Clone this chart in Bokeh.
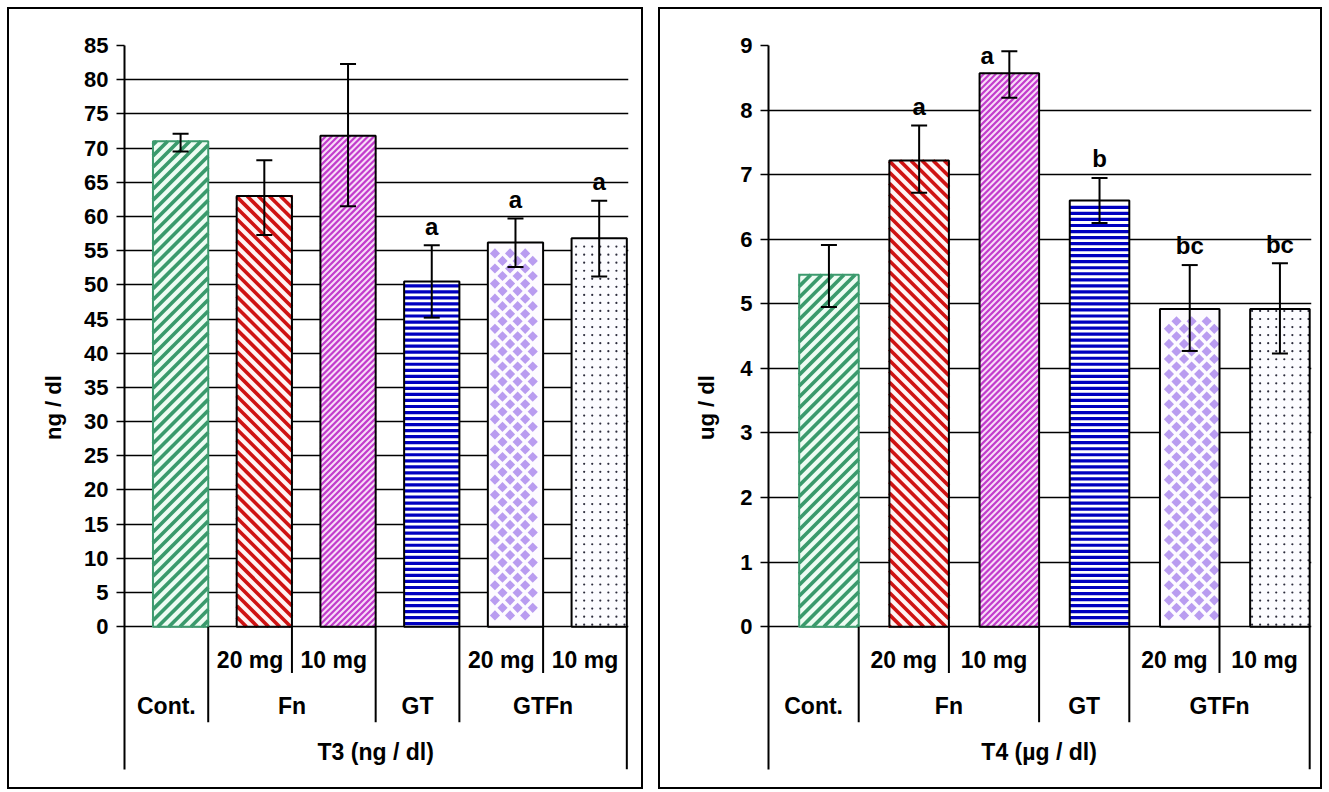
import math
from bokeh.plotting import figure
from bokeh.models import ColumnDataSource, Range1d, FixedTicker, Whisker, TeeHead
from bokeh.layouts import row
from bokeh.embed import file_html
from bokeh.resources import INLINE
from bokeh.core.properties import value

# ---------------- data ----------------
groups = ["Cont.", "Fn", "Fn", "GT", "GTFn", "GTFn"]
doses = ["", "20 mg", "10 mg", "", "20 mg", "10 mg"]

t3_mean = [71.0, 63.0, 71.8, 50.5, 56.2, 56.8]
t3_lower = [69.5, 57.3, 61.5, 45.2, 52.6, 51.2]
t3_upper = [72.1, 68.2, 82.3, 55.8, 59.7, 62.3]
t3_letters = ["", "", "", "a", "a", "a"]
t3_ticks = list(range(0, 90, 5))

t4_mean = [5.45, 7.22, 8.57, 6.60, 4.92, 4.92]
t4_lower = [4.95, 6.72, 8.19, 6.25, 4.27, 4.23]
t4_upper = [5.91, 7.76, 8.91, 6.95, 5.60, 5.63]
t4_letters = ["", "a", "a", "b", "bc", "bc"]
t4_ticks = list(range(0, 10))

# ---------------- styles ----------------
FONT = "Liberation Sans"
# per bar: (kind, colour, period px, line width / marker size px)
fills = [
    ("/", "#3a9a6c", 11, 3.6),
    ("\\", "#cf1313", 11, 3.6),
    ("/", "#c23ccc", 6, 2.2),
    ("-", "#0000c0", 6, 3.2),
    ("diamond", "#b99cf0", 15, 7.2),
    ("dot", "#2c2c3c", 8, 2.2),
]
fill_colors = ["#eefcf3", "#fff4f4", "#f8dcf8", "#ffffff", "#fdfbff", "#fcfcff"]
line_colors = ["#3d9a6e", "#000000", "#000000", "#000000", "#000000", "#000000"]
BAR_W = 0.66

FRAME_H_ABOVE = 578   # px from zero line to top
FRAME_H_BELOW = 142   # px of category table below zero


def panel(ymax, ticks, mean, lower, upper, letters, ylabel, title,
          width, min_left, frame_w, min_right, label_standoff):
    ppu = FRAME_H_ABOVE / ymax
    n = len(groups)
    xspan = n + 0.02
    ppx = frame_w / xspan

    def u(px):
        return px / ppu

    cat_c = [i + 0.5 for i in range(n)]          # category centres
    xs = [i + 1 - BAR_W / 2 for i in range(n)]   # bars sit at the right of each category
    p = figure(width=width, height=778, output_backend="svg", toolbar_location=None,
               x_range=Range1d(0, xspan), y_range=Range1d(-u(FRAME_H_BELOW), ymax),
               frame_width=frame_w, frame_height=FRAME_H_ABOVE + FRAME_H_BELOW,
               min_border_left=min_left, min_border_right=min_right,
               min_border_top=36, min_border_bottom=22)
    p.outline_line_color = None
    p.background_fill_color = "white"
    p.border_fill_color = "white"
    p.styles = {"border": "2px solid black"}

    p.xaxis.visible = False
    p.xgrid.visible = False
    tk = FixedTicker(ticks=ticks, minor_ticks=[])
    p.yaxis.ticker = tk
    p.ygrid.ticker = tk
    p.ygrid.grid_line_color = "black"
    p.ygrid.grid_line_width = 1.6
    p.yaxis.axis_line_width = 2
    p.yaxis.axis_line_color = "black"
    p.yaxis.major_tick_line_width = 1.6
    p.yaxis.major_tick_in = 0
    p.yaxis.major_tick_out = 8
    p.yaxis.minor_tick_line_color = None
    p.yaxis.major_label_standoff = 8
    p.yaxis.major_label_text_font = FONT
    p.yaxis.major_label_text_font_style = "bold"
    p.yaxis.major_label_text_font_size = "22px"
    p.yaxis.major_label_text_color = "black"
    p.yaxis.axis_label = ylabel
    p.yaxis.axis_label_text_font = FONT
    p.yaxis.axis_label_text_font_style = "bold"
    p.yaxis.axis_label_text_font_size = "22px"
    p.yaxis.axis_label_text_color = "black"
    p.yaxis.axis_label_standoff = label_standoff

    # bar fills
    p.vbar(x=xs, top=mean, bottom=0, width=BAR_W, fill_color=fill_colors, line_color=None)

    # pattern inside each bar, generated in screen pixels from the bar geometry
    for i in range(n):
        kind, col, per, lw = fills[i]
        L = (xs[i] - BAR_W / 2) * ppx
        R = (xs[i] + BAR_W / 2) * ppx
        H = mean[i] * ppu
        x0s, y0s, x1s, y1s = [], [], [], []
        if kind in ("/", "\\"):
            kmin = math.floor((L - H) / per) - 1
            kmax = math.ceil((R + H) / per) + 1
            for k in range(kmin, kmax + 1):
                c = k * per
                if kind == "/":      # y = x - c
                    a, b = max(L, c), min(R, c + H)
                    if a < b:
                        x0s.append(a); y0s.append(a - c); x1s.append(b); y1s.append(b - c)
                else:                # y = c - x
                    a, b = max(L, c - H), min(R, c)
                    if a < b:
                        x0s.append(a); y0s.append(c - a); x1s.append(b); y1s.append(c - b)
        elif kind == "-":
            y = per / 2
            while y < H - lw / 2:
                x0s.append(L); y0s.append(y); x1s.append(R); y1s.append(y)
                y += per
        if x0s:
            p.segment(x0=[v / ppx for v in x0s], y0=[v / ppu for v in y0s],
                      x1=[v / ppx for v in x1s], y1=[v / ppu for v in y1s],
                      line_color=col, line_width=lw)
        if kind in ("diamond", "dot"):
            px_, py_ = [], []
            r = lw * (0.7 if kind == "diamond" else 0.5)
            jmax = int(H / (per / 2)) + 2
            imin = int(L // (per / 2)) - 1
            imax = int(R // (per / 2)) + 2
            for jy in range(0, jmax):
                for ix in range(imin, imax):
                    if kind == "diamond" and (ix + jy) % 2:
                        continue
                    if kind == "dot" and (ix % 2 or jy % 2):
                        continue
                    cx = ix * per / 2
                    cy = jy * per / 2 + per / 4
                    if L + r <= cx <= R - r and r <= cy <= H - r:
                        px_.append(cx / ppx); py_.append(cy / ppu)
            if kind == "diamond":
                p.scatter(x=px_, y=py_, marker="square", size=lw, angle=math.pi / 4,
                          fill_color=col, line_color=None)
            else:
                p.scatter(x=px_, y=py_, marker="circle", size=lw, fill_color=col, line_color=None)

    # bar outlines
    p.vbar(x=xs, top=mean, bottom=0, width=BAR_W, fill_color=None,
           line_color=line_colors, line_width=2)

    src = ColumnDataSource(dict(x=xs, lower=lower, upper=upper))
    w = Whisker(base="x", upper="upper", lower="lower", source=src,
                line_color="black", line_width=2, level="annotation",
                upper_head=TeeHead(size=16, line_width=2, line_color="black"),
                lower_head=TeeHead(size=16, line_width=2, line_color="black"))
    p.add_layout(w)

    # significance letters
    lx, ly, lt = [], [], []
    for i, t in enumerate(letters):
        if not t:
            continue
        if (ymax - upper[i]) * ppu < 30:
            lx.append(xs[i] - u(0) - 22 / ppx)
            ly.append(upper[i] - u(4))
        else:
            lx.append(xs[i])
            ly.append(upper[i] + u(19))
        lt.append(t)
    p.text(x=lx, y=ly, text=lt, text_align="center", text_baseline="middle",
           text_font=value(FONT), text_font_style="bold", text_font_size="24px",
           text_color="black")

    # category table below the axis
    sx0, sx1, sy0, sy1 = [], [], [], []
    for i in range(1, n):
        depth = 46 if groups[i] == groups[i - 1] else 95
        sx0.append(i); sx1.append(i); sy0.append(0); sy1.append(-u(depth))
    sx0 += [n]; sx1 += [n]; sy0 += [0]; sy1 += [-u(FRAME_H_BELOW)]
    p.segment(x0=sx0, y0=sy0, x1=sx1, y1=sy1, line_color="black", line_width=2)

    dx = [cat_c[i] for i in range(n) if doses[i]]
    dt = [doses[i] for i in range(n) if doses[i]]
    p.text(x=dx, y=[-u(33)] * len(dx), text=dt, text_align="center", text_baseline="middle",
           text_font=value(FONT), text_font_style="bold", text_font_size="23px",
           text_color="black")

    gx, gt = [], []
    start = 0
    for i in range(1, n + 1):
        if i == n or groups[i] != groups[start]:
            gx.append((start + i) / 2)
            gt.append(groups[start])
            start = i
    p.text(x=gx, y=[-u(79)] * len(gx), text=gt, text_align="center", text_baseline="middle",
           text_font=value(FONT), text_font_style="bold", text_font_size="23px",
           text_color="black")

    p.text(x=[n / 2], y=[-u(125)], text=[title], text_align="center", text_baseline="middle",
           text_font=value(FONT), text_font_style="bold", text_font_size="23px",
           text_color="black")
    return p


p1 = panel(85, t3_ticks, t3_mean, t3_lower, t3_upper, t3_letters, "ng / dl", "T3 (ng / dl)",
           width=632, min_left=115, frame_w=500, min_right=17, label_standoff=15)
p2 = panel(9, t4_ticks, t4_mean, t4_lower, t4_upper, t4_letters, "ug / dl", "T4 (\u00b5g / dl)",
           width=660, min_left=108, frame_w=539, min_right=13, label_standoff=18)

layout = row(p1, p2, spacing=15)
layout.margin = (7, 0, 0, 7)
open("out.html", "w").write(file_html(layout, INLINE))
